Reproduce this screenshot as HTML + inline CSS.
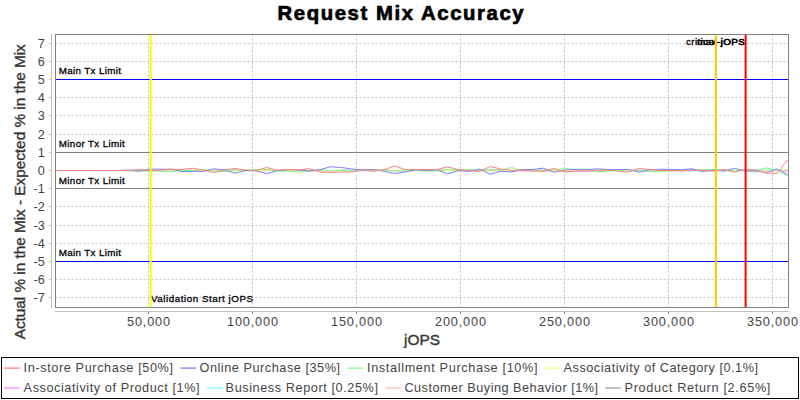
<!DOCTYPE html><html><head><meta charset="utf-8"><style>html,body{margin:0;padding:0;background:#fff;width:800px;height:400px;overflow:hidden}svg{display:block}text{font-family:"Liberation Sans",sans-serif}</style></head><body>
<svg width="800" height="400" viewBox="0 0 800 400">
<rect x="0" y="0" width="800" height="400" fill="#fff"/>
<text x="277.6" y="19.8" font-size="20.3" font-weight="bold" fill="#000" stroke="#000" stroke-width="0.7" textLength="246" lengthAdjust="spacing">Request Mix Accuracy</text>
<g>
<line x1="55" y1="297.5" x2="788" y2="297.5" stroke="#c4c4c4" stroke-width="1" stroke-dasharray="2,2" stroke-dashoffset="-0.5"/>
<line x1="55" y1="279.5" x2="788" y2="279.5" stroke="#c4c4c4" stroke-width="1" stroke-dasharray="2,2" stroke-dashoffset="-0.5"/>
<line x1="55" y1="261.5" x2="788" y2="261.5" stroke="#c4c4c4" stroke-width="1" stroke-dasharray="2,2" stroke-dashoffset="-0.5"/>
<line x1="55" y1="243.5" x2="788" y2="243.5" stroke="#c4c4c4" stroke-width="1" stroke-dasharray="2,2" stroke-dashoffset="-0.5"/>
<line x1="55" y1="225.5" x2="788" y2="225.5" stroke="#c4c4c4" stroke-width="1" stroke-dasharray="2,2" stroke-dashoffset="-0.5"/>
<line x1="55" y1="206.5" x2="788" y2="206.5" stroke="#c4c4c4" stroke-width="1" stroke-dasharray="2,2" stroke-dashoffset="-0.5"/>
<line x1="55" y1="188.5" x2="788" y2="188.5" stroke="#c4c4c4" stroke-width="1" stroke-dasharray="2,2" stroke-dashoffset="-0.5"/>
<line x1="55" y1="170.5" x2="788" y2="170.5" stroke="#c4c4c4" stroke-width="1" stroke-dasharray="2,2" stroke-dashoffset="-0.5"/>
<line x1="55" y1="152.5" x2="788" y2="152.5" stroke="#c4c4c4" stroke-width="1" stroke-dasharray="2,2" stroke-dashoffset="-0.5"/>
<line x1="55" y1="134.5" x2="788" y2="134.5" stroke="#c4c4c4" stroke-width="1" stroke-dasharray="2,2" stroke-dashoffset="-0.5"/>
<line x1="55" y1="115.5" x2="788" y2="115.5" stroke="#c4c4c4" stroke-width="1" stroke-dasharray="2,2" stroke-dashoffset="-0.5"/>
<line x1="55" y1="97.5" x2="788" y2="97.5" stroke="#c4c4c4" stroke-width="1" stroke-dasharray="2,2" stroke-dashoffset="-0.5"/>
<line x1="55" y1="79.5" x2="788" y2="79.5" stroke="#c4c4c4" stroke-width="1" stroke-dasharray="2,2" stroke-dashoffset="-0.5"/>
<line x1="55" y1="61.5" x2="788" y2="61.5" stroke="#c4c4c4" stroke-width="1" stroke-dasharray="2,2" stroke-dashoffset="-0.5"/>
<line x1="55" y1="43.5" x2="788" y2="43.5" stroke="#c4c4c4" stroke-width="1" stroke-dasharray="2,2" stroke-dashoffset="-0.5"/>
<line x1="148.5" y1="34" x2="148.5" y2="307" stroke="#c4c4c4" stroke-width="1" stroke-dasharray="2,2" stroke-dashoffset="-0.5"/>
<line x1="252.5" y1="34" x2="252.5" y2="307" stroke="#c4c4c4" stroke-width="1" stroke-dasharray="2,2" stroke-dashoffset="-0.5"/>
<line x1="356.5" y1="34" x2="356.5" y2="307" stroke="#c4c4c4" stroke-width="1" stroke-dasharray="2,2" stroke-dashoffset="-0.5"/>
<line x1="460.5" y1="34" x2="460.5" y2="307" stroke="#c4c4c4" stroke-width="1" stroke-dasharray="2,2" stroke-dashoffset="-0.5"/>
<line x1="564.5" y1="34" x2="564.5" y2="307" stroke="#c4c4c4" stroke-width="1" stroke-dasharray="2,2" stroke-dashoffset="-0.5"/>
<line x1="668.5" y1="34" x2="668.5" y2="307" stroke="#c4c4c4" stroke-width="1" stroke-dasharray="2,2" stroke-dashoffset="-0.5"/>
<line x1="772.5" y1="34" x2="772.5" y2="307" stroke="#c4c4c4" stroke-width="1" stroke-dasharray="2,2" stroke-dashoffset="-0.5"/>
<line x1="55" y1="79.5" x2="788" y2="79.5" stroke="#0000ff" stroke-width="1"/>
<line x1="55" y1="261.5" x2="788" y2="261.5" stroke="#0000ff" stroke-width="1"/>
<line x1="55" y1="152.5" x2="788" y2="152.5" stroke="#808080" stroke-width="1"/>
<line x1="55" y1="188.5" x2="788" y2="188.5" stroke="#808080" stroke-width="1"/>
</g>
<clipPath id="pc"><rect x="55" y="34" width="733" height="273"/></clipPath>
<g clip-path="url(#pc)" fill="none" stroke-width="1">
<polyline points="54.4,170.5 65.0,170.5 75.6,170.5 86.2,170.5 96.9,170.5 107.5,170.5 118.1,170.5 128.7,170.5 139.4,170.9 150.0,170.6 160.6,170.8 171.3,171.0 181.9,170.2 192.5,170.8 203.1,170.5 213.8,170.3 224.4,170.4 235.0,170.7 245.7,170.5 256.3,170.4 266.9,170.2 277.5,170.9 288.2,170.4 298.8,170.7 309.4,170.7 320.1,170.3 330.7,170.5 341.3,170.4 351.9,170.3 362.6,170.1 373.2,170.6 383.8,170.4 394.4,170.5 405.1,170.5 415.7,170.3 426.3,170.5 437.0,170.5 447.6,170.5 458.2,170.1 468.8,170.3 479.5,170.2 490.1,170.1 500.7,170.7 511.4,170.4 522.0,170.1 532.6,170.2 543.2,170.8 553.9,170.8 564.5,170.6 575.1,170.9 585.8,170.7 596.4,170.9 607.0,170.3 617.6,170.2 628.3,170.1 638.9,170.8 649.5,170.3 660.1,170.4 670.8,170.8 681.4,170.2 692.0,170.1 702.7,170.8 713.3,170.1 723.9,170.6 734.5,170.5 745.2,170.1 755.8,170.2 766.4,170.8 777.1,170.6 787.7,170.5" stroke="#a0a0a0"/>
<polyline points="54.4,170.5 65.0,170.5 75.6,170.5 86.2,170.5 96.9,170.5 107.5,170.5 118.1,170.5 128.7,170.6 139.4,170.8 150.0,170.7 160.6,170.8 171.3,170.8 181.9,170.4 192.5,170.1 203.1,170.2 213.8,170.5 224.4,170.4 235.0,170.2 245.7,170.9 256.3,170.4 266.9,170.1 277.5,170.2 288.2,170.3 298.8,170.5 309.4,170.8 320.1,170.2 330.7,170.7 341.3,170.2 351.9,170.1 362.6,170.6 373.2,170.6 383.8,170.1 394.4,170.3 405.1,170.8 415.7,170.8 426.3,170.8 437.0,170.1 447.6,170.2 458.2,170.8 468.8,170.2 479.5,170.1 490.1,170.4 500.7,170.6 511.4,170.5 522.0,170.8 532.6,170.9 543.2,170.1 553.9,170.4 564.5,170.5 575.1,170.1 585.8,170.6 596.4,170.2 607.0,170.2 617.6,170.8 628.3,170.7 638.9,170.7 649.5,170.7 660.1,170.4 670.8,170.7 681.4,170.6 692.0,170.8 702.7,170.1 713.3,170.6 723.9,170.5 734.5,170.4 745.2,170.1 755.8,170.6 766.4,170.1 777.1,170.5 787.7,169.5" stroke="#ffc0c0"/>
<polyline points="54.4,170.5 65.0,170.5 75.6,170.5 86.2,170.5 96.9,170.5 107.5,170.5 118.1,170.5 128.7,170.8 139.4,170.8 150.0,170.6 160.6,170.9 171.3,171.0 181.9,170.8 192.5,170.9 203.1,170.6 213.8,170.9 224.4,170.2 235.0,170.4 245.7,170.8 256.3,170.7 266.9,170.6 277.5,170.6 288.2,170.8 298.8,170.2 309.4,170.1 320.1,170.5 330.7,170.5 341.3,170.9 351.9,170.9 362.6,170.6 373.2,170.7 383.8,170.2 394.4,170.8 405.1,170.9 415.7,170.1 426.3,170.5 437.0,170.8 447.6,170.5 458.2,170.9 468.8,170.5 479.5,170.1 490.1,170.2 500.7,170.3 511.4,170.7 522.0,170.6 532.6,170.8 543.2,170.3 553.9,170.5 564.5,170.2 575.1,170.7 585.8,170.8 596.4,170.2 607.0,170.1 617.6,170.2 628.3,170.2 638.9,170.2 649.5,170.3 660.1,170.7 670.8,170.5 681.4,170.6 692.0,170.9 702.7,170.9 713.3,170.7 723.9,170.7 734.5,170.3 745.2,170.1 755.8,169.5 766.4,168.9 777.1,170.1 787.7,170.1" stroke="#80ffff"/>
<polyline points="54.4,170.5 65.0,170.5 75.6,170.5 86.2,170.5 96.9,170.5 107.5,170.5 118.1,170.5 128.7,170.4 139.4,170.4 150.0,170.5 160.6,170.2 171.3,170.1 181.9,170.5 192.5,170.4 203.1,170.9 213.8,170.3 224.4,170.4 235.0,170.1 245.7,170.2 256.3,170.7 266.9,170.6 277.5,170.3 288.2,170.9 298.8,170.5 309.4,170.8 320.1,170.8 330.7,170.9 341.3,170.3 351.9,170.8 362.6,170.7 373.2,170.6 383.8,170.2 394.4,170.9 405.1,170.5 415.7,170.5 426.3,170.2 437.0,170.2 447.6,170.2 458.2,170.7 468.8,170.6 479.5,170.6 490.1,170.2 500.7,170.1 511.4,170.8 522.0,170.8 532.6,170.7 543.2,170.7 553.9,170.5 564.5,170.4 575.1,170.7 585.8,171.0 596.4,170.6 607.0,170.6 617.6,170.4 628.3,170.1 638.9,170.3 649.5,170.5 660.1,170.4 670.8,170.3 681.4,170.9 692.0,170.1 702.7,170.2 713.3,170.2 723.9,170.2 734.5,170.6 745.2,170.6 755.8,170.9 766.4,170.4 777.1,170.9 787.7,170.9" stroke="#ff80ff"/>
<polyline points="54.4,170.5 65.0,170.5 75.6,170.5 86.2,170.5 96.9,170.5 107.5,170.5 118.1,170.5 128.7,170.7 139.4,170.8 150.0,170.4 160.6,170.9 171.3,170.5 181.9,170.6 192.5,170.9 203.1,170.5 213.8,170.9 224.4,170.6 235.0,170.9 245.7,170.9 256.3,170.6 266.9,170.2 277.5,170.8 288.2,170.8 298.8,170.4 309.4,170.1 320.1,170.4 330.7,170.6 341.3,170.1 351.9,170.9 362.6,170.2 373.2,170.7 383.8,170.8 394.4,170.8 405.1,170.7 415.7,170.2 426.3,170.8 437.0,170.4 447.6,170.4 458.2,170.6 468.8,170.5 479.5,170.9 490.1,170.9 500.7,170.8 511.4,170.3 522.0,170.6 532.6,170.7 543.2,170.4 553.9,170.5 564.5,170.7 575.1,170.2 585.8,170.3 596.4,170.7 607.0,170.4 617.6,170.5 628.3,170.2 638.9,170.3 649.5,170.7 660.1,170.1 670.8,170.8 681.4,170.6 692.0,170.3 702.7,170.8 713.3,170.5 723.9,170.9 734.5,170.3 745.2,170.3 755.8,170.4 766.4,170.2 777.1,170.7 787.7,169.2" stroke="#ffff80"/>
<polyline points="54.4,170.5 65.0,170.5 75.6,170.5 86.2,170.5 96.9,170.5 107.5,170.5 118.1,170.5 128.7,170.5 139.4,170.5 150.0,170.8 160.6,171.0 171.3,171.2 181.9,170.5 192.5,170.5 203.1,169.5 213.8,171.2 224.4,171.5 235.0,170.0 245.7,170.2 256.3,169.5 266.9,169.5 277.5,171.0 288.2,171.0 298.8,172.3 309.4,171.0 320.1,170.0 330.7,170.5 341.3,170.5 351.9,170.5 362.6,170.5 373.2,170.0 383.8,170.0 394.4,170.8 405.1,170.0 415.7,170.5 426.3,171.0 437.0,171.0 447.6,169.5 458.2,170.0 468.8,169.5 479.5,170.5 490.1,170.0 500.7,170.0 511.4,167.5 522.0,170.5 532.6,170.5 543.2,170.0 553.9,169.8 564.5,168.5 575.1,169.5 585.8,168.8 596.4,172.0 607.0,171.2 617.6,170.5 628.3,170.2 638.9,170.5 649.5,171.5 660.1,171.5 670.8,170.8 681.4,170.5 692.0,170.5 702.7,169.5 713.3,169.5 723.9,170.2 734.5,170.5 745.2,170.5 755.8,172.4 766.4,167.8 777.1,170.5 787.7,175.8" stroke="#80ff80"/>
<polyline points="54.4,170.5 65.0,170.5 75.6,170.5 86.2,170.5 96.9,170.5 107.5,170.5 118.1,170.5 128.7,170.0 139.4,171.2 150.0,169.0 160.6,169.2 171.3,169.2 181.9,171.5 192.5,171.5 203.1,171.2 213.8,168.8 224.4,170.0 235.0,173.2 245.7,170.5 256.3,170.8 266.9,173.7 277.5,170.5 288.2,169.5 298.8,170.0 309.4,171.0 320.1,169.5 330.7,166.8 341.3,167.5 351.9,169.0 362.6,170.0 373.2,169.5 383.8,171.2 394.4,173.5 405.1,172.0 415.7,169.8 426.3,170.5 437.0,169.8 447.6,173.8 458.2,170.5 468.8,171.5 479.5,169.2 490.1,174.2 500.7,171.2 511.4,172.0 522.0,169.5 532.6,169.5 543.2,168.2 553.9,172.2 564.5,170.0 575.1,169.5 585.8,169.8 596.4,168.8 607.0,169.5 617.6,169.5 628.3,169.5 638.9,172.2 649.5,170.0 660.1,169.2 670.8,169.5 681.4,169.5 692.0,168.8 702.7,171.5 713.3,170.0 723.9,171.2 734.5,168.3 745.2,171.1 755.8,170.8 766.4,172.6 777.1,168.9 787.7,174.7" stroke="#8080ff"/>
<polyline points="54.4,170.5 65.0,170.5 75.6,170.5 86.2,170.5 96.9,170.5 107.5,170.5 118.1,170.5 128.7,170.5 139.4,169.5 150.0,170.5 160.6,170.3 171.3,169.2 181.9,169.5 192.5,168.2 203.1,170.0 213.8,172.5 224.4,170.0 235.0,168.5 245.7,170.0 256.3,170.5 266.9,167.5 277.5,170.5 288.2,169.5 298.8,170.0 309.4,168.7 320.1,172.0 330.7,172.5 341.3,172.0 351.9,172.0 362.6,169.5 373.2,171.2 383.8,169.8 394.4,166.0 405.1,169.5 415.7,169.5 426.3,169.5 437.0,169.5 447.6,167.0 458.2,169.5 468.8,170.5 479.5,171.5 490.1,166.5 500.7,169.0 511.4,170.5 522.0,170.0 532.6,171.0 543.2,171.2 553.9,168.5 564.5,171.8 575.1,171.2 585.8,171.0 596.4,170.5 607.0,170.0 617.6,171.2 628.3,172.0 638.9,168.5 649.5,169.5 660.1,170.5 670.8,170.5 681.4,170.8 692.0,170.5 702.7,170.2 713.3,171.2 723.9,169.5 734.5,172.2 745.2,169.6 755.8,170.0 766.4,173.2 777.1,173.4 787.7,159.9" stroke="#ff8080"/>
</g>
<g font-size="9.8" fill="#000" stroke="#000" stroke-width="0.3">
<text x="58.8" y="73.8" textLength="62.2" lengthAdjust="spacing">Main Tx Limit</text>
<text x="58.8" y="256" textLength="62.2" lengthAdjust="spacing">Main Tx Limit</text>
<text x="58.8" y="146.5" textLength="66" lengthAdjust="spacing">Minor Tx Limit</text>
<text x="58.8" y="183.5" textLength="66" lengthAdjust="spacing">Minor Tx Limit</text>
<text x="151" y="301.8" textLength="102" lengthAdjust="spacing">Validation Start jOPS</text>
<text x="686" y="44.8" textLength="58.8" lengthAdjust="spacing">critical-jOPS</text>
<text x="697" y="44.8" textLength="47.8" lengthAdjust="spacing">max-jOPS</text>
</g>
<g shape-rendering="crispEdges">
<rect x="149.7" y="34" width="2" height="273" fill="#ffff00" shape-rendering="geometricPrecision"/>
<rect x="714.85" y="34" width="2" height="273" fill="#ffc800" shape-rendering="geometricPrecision"/>
<rect x="744.6" y="34" width="2" height="273" fill="#ff0000" shape-rendering="geometricPrecision"/>
<rect x="55.5" y="34.5" width="733" height="273" fill="none" stroke="#808080" stroke-width="1"/>
<line x1="51.5" y1="34" x2="51.5" y2="308" stroke="#c0c0c0" stroke-width="1"/>
<line x1="49" y1="297.5" x2="51" y2="297.5" stroke="#c0c0c0" stroke-width="1"/>
<line x1="49" y1="279.5" x2="51" y2="279.5" stroke="#c0c0c0" stroke-width="1"/>
<line x1="49" y1="261.5" x2="51" y2="261.5" stroke="#c0c0c0" stroke-width="1"/>
<line x1="49" y1="243.5" x2="51" y2="243.5" stroke="#c0c0c0" stroke-width="1"/>
<line x1="49" y1="225.5" x2="51" y2="225.5" stroke="#c0c0c0" stroke-width="1"/>
<line x1="49" y1="206.5" x2="51" y2="206.5" stroke="#c0c0c0" stroke-width="1"/>
<line x1="49" y1="188.5" x2="51" y2="188.5" stroke="#c0c0c0" stroke-width="1"/>
<line x1="49" y1="170.5" x2="51" y2="170.5" stroke="#c0c0c0" stroke-width="1"/>
<line x1="49" y1="152.5" x2="51" y2="152.5" stroke="#c0c0c0" stroke-width="1"/>
<line x1="49" y1="134.5" x2="51" y2="134.5" stroke="#c0c0c0" stroke-width="1"/>
<line x1="49" y1="115.5" x2="51" y2="115.5" stroke="#c0c0c0" stroke-width="1"/>
<line x1="49" y1="97.5" x2="51" y2="97.5" stroke="#c0c0c0" stroke-width="1"/>
<line x1="49" y1="79.5" x2="51" y2="79.5" stroke="#c0c0c0" stroke-width="1"/>
<line x1="49" y1="61.5" x2="51" y2="61.5" stroke="#c0c0c0" stroke-width="1"/>
<line x1="49" y1="43.5" x2="51" y2="43.5" stroke="#c0c0c0" stroke-width="1"/>
<line x1="55" y1="311.5" x2="789" y2="311.5" stroke="#c0c0c0" stroke-width="1"/>
<line x1="148.5" y1="312" x2="148.5" y2="314" stroke="#808080" stroke-width="1"/>
<line x1="252.5" y1="312" x2="252.5" y2="314" stroke="#808080" stroke-width="1"/>
<line x1="356.5" y1="312" x2="356.5" y2="314" stroke="#808080" stroke-width="1"/>
<line x1="460.5" y1="312" x2="460.5" y2="314" stroke="#808080" stroke-width="1"/>
<line x1="564.5" y1="312" x2="564.5" y2="314" stroke="#808080" stroke-width="1"/>
<line x1="668.5" y1="312" x2="668.5" y2="314" stroke="#808080" stroke-width="1"/>
<line x1="772.5" y1="312" x2="772.5" y2="314" stroke="#808080" stroke-width="1"/>
</g>
<g font-size="12.7" fill="#444" text-anchor="end">
<text x="44.8" y="302.4">-7</text>
<text x="44.8" y="284.2">-6</text>
<text x="44.8" y="266.0">-5</text>
<text x="44.8" y="247.8">-4</text>
<text x="44.8" y="229.6">-3</text>
<text x="44.8" y="211.4">-2</text>
<text x="44.8" y="193.2">-1</text>
<text x="44.8" y="175.0">0</text>
<text x="44.8" y="156.8">1</text>
<text x="44.8" y="138.6">2</text>
<text x="44.8" y="120.4">3</text>
<text x="44.8" y="102.2">4</text>
<text x="44.8" y="84.0">5</text>
<text x="44.8" y="65.8">6</text>
<text x="44.8" y="47.6">7</text>
</g>
<g font-size="12.7" fill="#444">
<text x="127.0" y="326" textLength="43" lengthAdjust="spacing">50,000</text>
<text x="227.0" y="326" textLength="51" lengthAdjust="spacing">100,000</text>
<text x="331.0" y="326" textLength="51" lengthAdjust="spacing">150,000</text>
<text x="435.0" y="326" textLength="51" lengthAdjust="spacing">200,000</text>
<text x="539.0" y="326" textLength="51" lengthAdjust="spacing">250,000</text>
<text x="643.0" y="326" textLength="51" lengthAdjust="spacing">300,000</text>
<text x="747.0" y="326" textLength="51" lengthAdjust="spacing">350,000</text>
</g>
<text x="404" y="345" font-size="14.8" fill="#333" stroke="#333" stroke-width="0.35" textLength="36" lengthAdjust="spacingAndGlyphs">jOPS</text>
<text transform="translate(24.7,339.3) rotate(-90)" x="0" y="0" font-size="14.8" fill="#333" stroke="#333" stroke-width="0.35" textLength="295" lengthAdjust="spacingAndGlyphs">Actual % in the Mix - Expected % in the Mix</text>
<rect x="1.5" y="357.5" width="797" height="41" fill="none" stroke="#000" stroke-width="1" shape-rendering="crispEdges"/>
<g font-size="12.7" fill="#444">
<line x1="4" y1="368.1" x2="19.5" y2="368.1" stroke="#ff8080" stroke-width="1.3"/>
<text x="23.6" y="372" textLength="149.4" lengthAdjust="spacing">In-store Purchase [50%]</text>
<line x1="180.5" y1="368.1" x2="196.0" y2="368.1" stroke="#8080ff" stroke-width="1.3"/>
<text x="199.5" y="372" textLength="140.5" lengthAdjust="spacing">Online Purchase [35%]</text>
<line x1="347.7" y1="368.1" x2="363.2" y2="368.1" stroke="#80ff80" stroke-width="1.3"/>
<text x="367" y="372" textLength="170.5" lengthAdjust="spacing">Installment Purchase [10%]</text>
<line x1="545" y1="368.1" x2="560.5" y2="368.1" stroke="#ffff80" stroke-width="1.3"/>
<text x="563.6" y="372" textLength="194.4" lengthAdjust="spacing">Associativity of Category [0.1%]</text>
<line x1="4" y1="388.0" x2="19.5" y2="388.0" stroke="#ff80ff" stroke-width="1.3"/>
<text x="23.6" y="392" textLength="175.9" lengthAdjust="spacing">Associativity of Product [1%]</text>
<line x1="207" y1="388.0" x2="222.5" y2="388.0" stroke="#80ffff" stroke-width="1.3"/>
<text x="225.6" y="392" textLength="152.4" lengthAdjust="spacing">Business Report [0.25%]</text>
<line x1="385.5" y1="388.0" x2="401.0" y2="388.0" stroke="#ffc0c0" stroke-width="1.3"/>
<text x="404.4" y="392" textLength="193.6" lengthAdjust="spacing">Customer Buying Behavior [1%]</text>
<line x1="605.4" y1="388.0" x2="620.9" y2="388.0" stroke="#a0a0a0" stroke-width="1.3"/>
<text x="624.6" y="392" textLength="145.8" lengthAdjust="spacing">Product Return [2.65%]</text>
</g>
</svg></body></html>
